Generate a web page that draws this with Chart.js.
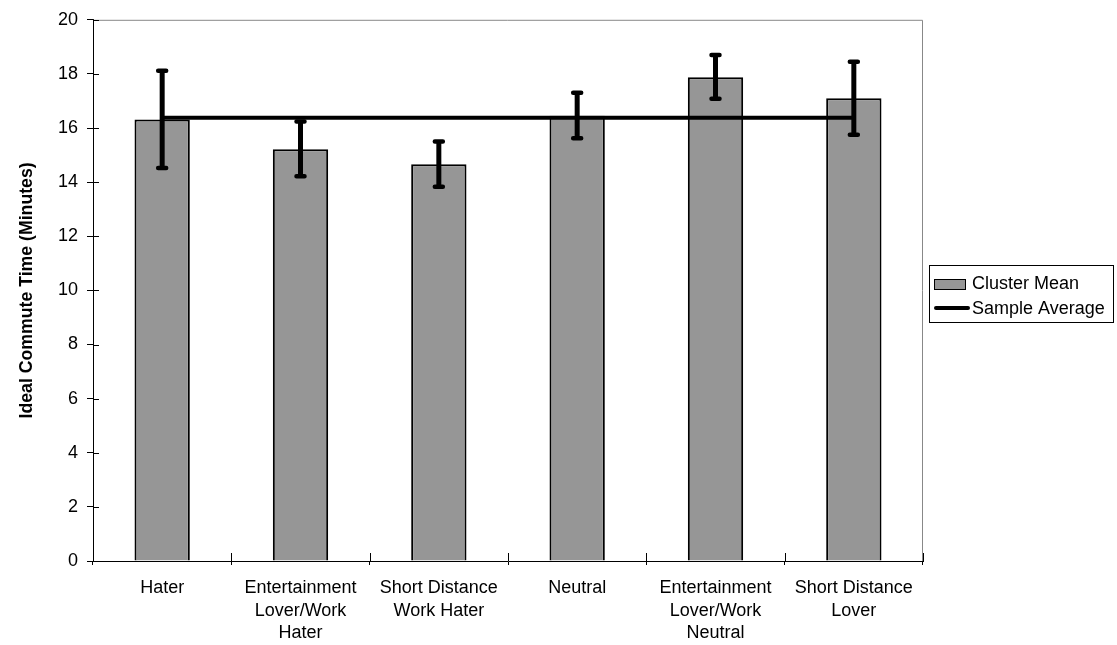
<!DOCTYPE html>
<html><head><meta charset="utf-8">
<script src="https://cdn.jsdelivr.net/npm/chart.js@4"></script>
<style>html,body{margin:0;padding:0;background:#fff}#wrap{width:1117px;height:645px}</style>
</head><body><div id="wrap"><canvas id="c" width="1117" height="645"></canvas></div>
<script>
const categories = ["Hater", ["Entertainment","Lover/Work","Hater"], ["Short Distance","Work Hater"], "Neutral", ["Entertainment","Lover/Work","Neutral"], ["Short Distance","Lover"]];
const clusterMean = [16.32, 15.22, 14.66, 16.45, 17.88, 17.10];
const errLow = [14.52, 14.22, 13.83, 15.62, 17.08, 15.75];
const errHigh = [18.12, 16.24, 15.50, 17.30, 18.70, 18.45];
const sampleAverage = [16.38, 16.38, 16.38, 16.38, 16.38, 16.38];
const yTicks = [0, 2, 4, 6, 8, 10, 12, 14, 16, 18, 20];
const FONT = "'Liberation Sans', Arial, sans-serif";

const extras = {
  id: 'extras',
  afterDatasetsDraw(chart) {
    const ctx = chart.ctx, x = chart.scales.x, y = chart.scales.y;
    ctx.save();
    ctx.strokeStyle = '#000';
    errLow.forEach((lo, i) => {
      const px = x.getPixelForValue(i), yl = y.getPixelForValue(lo), yh = y.getPixelForValue(errHigh[i]);
      ctx.lineCap = 'butt'; ctx.lineWidth = 5;
      ctx.beginPath(); ctx.moveTo(px, yl); ctx.lineTo(px, yh); ctx.stroke();
      ctx.lineCap = 'round'; ctx.lineWidth = 4.5;
      ctx.beginPath();
      ctx.moveTo(px - 4, yl); ctx.lineTo(px + 4, yl);
      ctx.moveTo(px - 4, yh); ctx.lineTo(px + 4, yh);
      ctx.stroke();
    });
    ctx.restore();
  },
  beforeDatasetsDraw(chart) {
    const ctx = chart.ctx, ca = chart.chartArea, y = chart.scales.y;
    ctx.save();
    ctx.strokeStyle = '#888'; ctx.lineWidth = 1;
    ctx.beginPath(); ctx.moveTo(ca.left, ca.top + 0.5); ctx.lineTo(ca.right - 0.5, ca.top + 0.5); ctx.lineTo(ca.right - 0.5, ca.bottom); ctx.stroke();
    ctx.strokeStyle = '#000';
    ctx.beginPath();
    yTicks.forEach(v => { const py = Math.round(y.getPixelForValue(v)) + 0.5; ctx.moveTo(ca.left, py); ctx.lineTo(ca.left + 6, py); });
    const n = categories.length, w = (ca.right - ca.left) / n;
    for (let i = 0; i <= n; i++) { const px = Math.round(ca.left + i * w) + 0.5; ctx.moveTo(px, ca.bottom); ctx.lineTo(px, ca.bottom - 8); }
    ctx.stroke();
    ctx.restore();
  },
  afterDraw(chart) {
    const ctx = chart.ctx;
    const barDs = chart.data.datasets.find(d => d.type === 'bar');
    const lineDs = chart.data.datasets.find(d => d.type === 'line');
    ctx.save();
    const bx = 929.5, by = 265.5, bw = 184, bh = 57;
    ctx.strokeStyle = '#000'; ctx.lineWidth = 1; ctx.strokeRect(bx, by, bw, bh);
    ctx.fillStyle = barDs.backgroundColor; ctx.fillRect(934, 279, 32, 11);
    ctx.strokeRect(934.5, 279.5, 31, 10);
    ctx.lineWidth = 4; ctx.lineCap = 'round';
    ctx.beginPath(); ctx.moveTo(936, 308); ctx.lineTo(968, 308); ctx.stroke();
    ctx.fillStyle = '#000'; ctx.font = '18px ' + FONT; ctx.textBaseline = 'middle'; ctx.textAlign = 'left';
    ctx.fillText(barDs.label, 972, 284);
    ctx.fillText(lineDs.label, 972, 309);
    ctx.restore();
  }
};

new Chart(document.getElementById('c'), {
  data: {
    labels: categories,
    datasets: [
      { type: 'line', label: 'Sample Average', data: sampleAverage, borderColor: '#000', borderWidth: 4, pointRadius: 0, fill: false, order: 0 },
      { type: 'bar', label: 'Cluster Mean', data: clusterMean, backgroundColor: '#969696', borderColor: '#000', borderWidth: 2, categoryPercentage: 1, barPercentage: 0.4, order: 1 }
    ]
  },
  options: {
    responsive: false, animation: false,
    layout: { padding: { top: 15, right: 194, left: 0, bottom: 0 } },
    plugins: { legend: { display: false }, tooltip: { enabled: false } },
    scales: {
      x: {
        offset: true,
        grid: { display: true, drawOnChartArea: false, offset: true, tickLength: 4, color: '#000' },
        border: { color: '#000', width: 1 },
        ticks: { color: '#000', font: { family: FONT, size: 18, lineHeight: 1.245 }, padding: 12, maxRotation: 0, autoSkip: false },
        afterFit(s) { s.height = 645 - 561; }
      },
      y: {
        min: 0, max: 20,
        afterBuildTicks(s) { s.ticks = yTicks.map(v => ({ value: v })); },
        grid: { display: true, drawOnChartArea: false, tickLength: 6, color: '#000' },
        border: { color: '#000', width: 1 },
        ticks: { color: '#000', font: { family: FONT, size: 18 }, padding: 9 },
        title: { display: true, text: 'Ideal Commute Time (Minutes)', color: '#000', font: { family: FONT, size: 17.7, weight: 'bold' }, padding: { top: 16, bottom: 0 } },
        afterFit(s) { s.width = 93; }
      }
    }
  },
  plugins: [extras]
});
</script></body></html>
